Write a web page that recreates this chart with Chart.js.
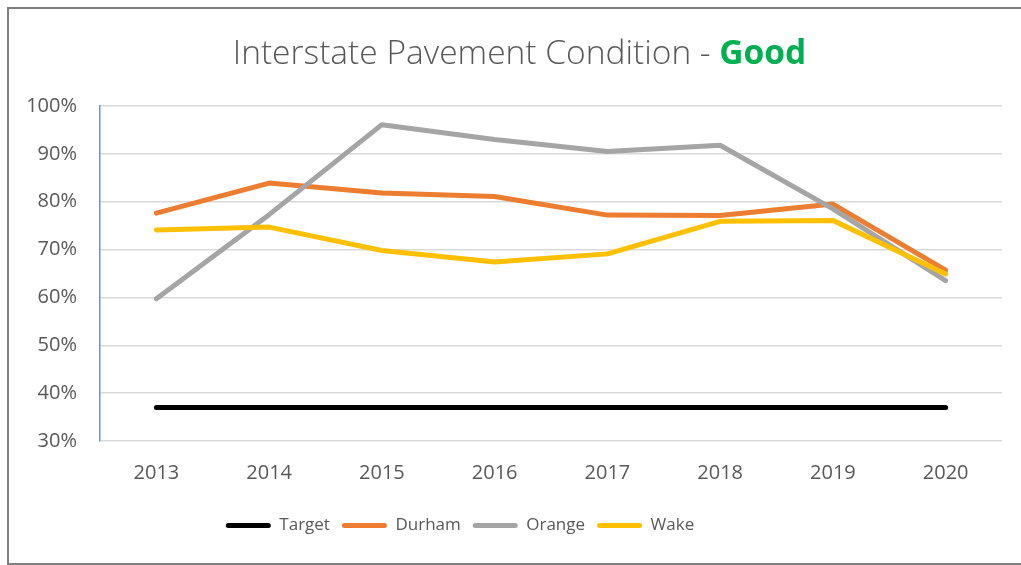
<!DOCTYPE html>
<html>
<head>
<meta charset="utf-8">
<script src="https://cdn.jsdelivr.net/npm/chart.js@4/dist/chart.umd.min.js"></script>
<style>
  html, body { margin: 0; padding: 0; background: #fff; }
  #wrap { position: relative; width: 1021px; height: 565px; overflow: hidden; }
  #frame { position: absolute; left: 7px; top: 7px; width: 1100px; height: 554px; border: 2px solid #7f7f7f; pointer-events: none; }
  #title { position: absolute; left: 0; width: 1039px; top: 28px; text-align: center; font-family: "Open Sans", sans-serif; font-weight: 300; font-size: 33.5px; color: #595959; white-space: nowrap; }
  #title b { color: #00B050; font-weight: 700; }
  canvas { position: absolute; left: 0; top: 0; }
</style>
</head>
<body>
<div id="wrap">
  <canvas id="chart" width="1021" height="565"></canvas>
  <div id="title">Interstate Pavement Condition - <b>Good</b></div>
  <div id="frame"></div>
</div>
<script>
// chart data
const years = ['2013', '2014', '2015', '2016', '2017', '2018', '2019', '2020'];
const target = [37, 37, 37, 37, 37, 37, 37, 37];
const durham = [77.6, 83.9, 81.8, 81.1, 77.2, 77.1, 79.5, 65.7];
const orange = [59.7, 77.3, 96.1, 93.0, 90.5, 91.8, 78.5, 63.5];
const wake = [74.1, 74.7, 69.8, 67.4, 69.1, 75.9, 76.1, 64.9];
const yTicks = [30, 40, 50, 60, 70, 80, 90, 100];

const font = { family: '"Open Sans", sans-serif', size: 20 };
const legendFont = { family: '"Open Sans", sans-serif', size: 17 };
const textColor = '#595959';

function series(label, data, color, order) {
  return {
    label: label,
    data: data,
    borderColor: color,
    backgroundColor: color,
    borderWidth: 5,
    pointRadius: 0,
    pointHoverRadius: 0,
    tension: 0,
    borderCapStyle: 'round',
    borderJoinStyle: 'round',
    order: order
  };
}

// the legend in the original sits a bit left of the middle
const legendShift = {
  id: 'legendShift',
  afterLayout(chart) {
    chart.legend.left -= 41;
    chart.legend.right -= 41;
  }
};

const ctx = document.getElementById('chart').getContext('2d');
new Chart(ctx, {
  type: 'line',
  data: {
    labels: years,
    datasets: [
      series('Target', target, '#000000', 3),
      series('Durham', durham, '#ED7D31', 2),
      series('Orange', orange, '#A5A5A5', 1),
      series('Wake', wake, '#FFC000', 0)
    ]
  },
  plugins: [legendShift],
  options: {
    responsive: false,
    animation: false,
    layout: { padding: { top: 106, right: 19, bottom: 21, left: 0 } },
    plugins: {
      title: { display: false },
      tooltip: { enabled: false },
      legend: {
        position: 'bottom',
        labels: {
          font: legendFont,
          color: textColor,
          boxWidth: 45,
          boxHeight: 5,
          padding: 12,
          useBorderRadius: true,
          borderRadius: 2.5,
          sort: (a, b) => a.datasetIndex - b.datasetIndex,
          generateLabels: chart => Chart.defaults.plugins.legend.labels.generateLabels(chart).map(item => {
            item.lineWidth = 0;
            item.fillStyle = item.strokeStyle;
            return item;
          })
        }
      }
    },
    scales: {
      x: {
        offset: true,
        grid: { display: false, drawTicks: false },
        border: { display: false },
        ticks: { font: font, color: textColor, padding: 20 }
      },
      y: {
        min: 30,
        max: 100,
        afterFit: axis => { axis.width = 100; },
        afterBuildTicks: axis => { axis.ticks = yTicks.map(v => ({ value: v })); },
        grid: { color: '#d9d9d9', lineWidth: 1.5, drawTicks: false },
        border: { display: true, color: '#5B9BD5', width: 1.5 },
        ticks: { font: font, color: textColor, padding: 23, callback: v => v + '%' }
      }
    }
  }
});
</script>
</body>
</html>
